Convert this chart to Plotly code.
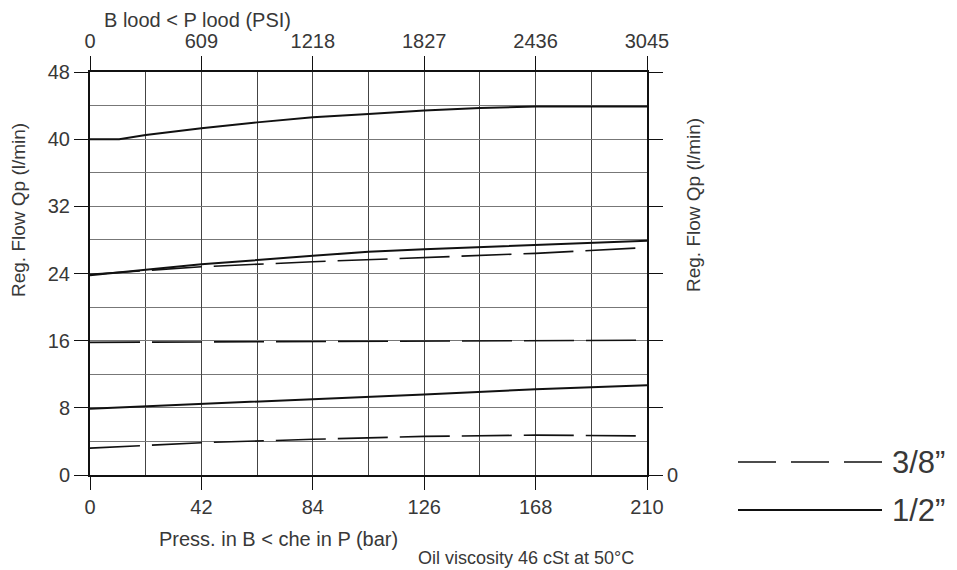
import plotly.graph_objects as go

# ---- data ----
bar_ticks = [0, 42, 84, 126, 168, 210]
psi_ticks = [0, 609, 1218, 1827, 2436, 3045]
flow_ticks = [0, 8, 16, 24, 32, 40, 48]

half_top_x = [0, 11, 21, 42, 63, 84, 105, 126, 147, 168, 210]
half_top_y = [40.0, 40.0, 40.5, 41.3, 42.0, 42.6, 43.0, 43.4, 43.7, 43.9, 43.9]

half_mid_x = [0, 42, 84, 105, 126, 168, 210]
half_mid_y = [23.8, 25.1, 26.1, 26.6, 26.9, 27.4, 27.9]

half_low_x = [0, 42, 84, 126, 168, 210]
half_low_y = [7.9, 8.45, 9.05, 9.6, 10.2, 10.7]

tq_up_x = [0, 42, 84, 126, 168, 210]
tq_up_y = [23.9, 24.8, 25.4, 25.9, 26.4, 27.1]

tq_mid_x = [0, 42, 84, 126, 168, 210]
tq_mid_y = [15.8, 15.85, 15.9, 15.95, 16.0, 16.05]

tq_low_x = [0, 42, 84, 126, 168, 210]
tq_low_y = [3.2, 3.85, 4.25, 4.6, 4.75, 4.65]

FONT = "Liberation Sans"
TXT = "#383838"

fig = go.Figure()

solid = dict(color="#111111", width=2)
dashed = dict(color="#111111", width=1.6, dash="50px,12px")

for xs, ys in [(half_top_x, half_top_y), (half_mid_x, half_mid_y), (half_low_x, half_low_y)]:
    fig.add_trace(go.Scatter(x=xs, y=ys, mode="lines", line=solid, showlegend=False, hoverinfo="skip"))
for xs, ys in [(tq_up_x, tq_up_y), (tq_mid_x, tq_mid_y), (tq_low_x, tq_low_y)]:
    fig.add_trace(go.Scatter(x=xs, y=ys, mode="lines", line=dashed, showlegend=False, hoverinfo="skip"))

# invisible trace to activate secondary axes
fig.add_trace(go.Scatter(x=[0], y=[0], xaxis="x2", yaxis="y2", mode="markers",
                         marker=dict(opacity=0), showlegend=False, hoverinfo="skip"))

tickfont = dict(family=FONT, size=20, color=TXT)

# the page body adds an 8px offset; figure is sized so it fits the 957x570 window
fig.update_layout(
    width=949, height=562,
    margin=dict(l=82, r=310, t=64, b=95, autoexpand=False),
    paper_bgcolor="white", plot_bgcolor="white",
    showlegend=False,
    xaxis=dict(range=[0, 210], tickvals=bar_ticks, ticks="outside", ticklen=13,
               tickcolor="#111", tickwidth=1, tickfont=tickfont,
               showgrid=True, gridcolor="#444", gridwidth=1,
               minor=dict(dtick=21, tick0=0, showgrid=True, gridcolor="#444", gridwidth=1, ticks=""),
               showline=True, linecolor="#111", linewidth=2, zeroline=False, fixedrange=True),
    xaxis2=dict(range=[0, 3045], tickvals=psi_ticks, overlaying="x", side="top",
                ticks="outside", ticklen=14, tickcolor="#111", tickwidth=1, tickfont=tickfont,
                showgrid=False, showline=True, linecolor="#111", linewidth=2, zeroline=False),
    yaxis=dict(range=[0, 48], tickvals=flow_ticks, ticks="outside", ticklen=14,
               tickcolor="#111", tickwidth=1, tickfont=tickfont,
               showgrid=True, gridcolor="#777", gridwidth=1.3,
               minor=dict(dtick=4, tick0=0, showgrid=True, gridcolor="#777", gridwidth=1.3, ticks=""),
               showline=True, linecolor="#111", linewidth=2, zeroline=False),
    yaxis2=dict(range=[0, 48], tickvals=flow_ticks, ticktext=["0", "", "", "", "", "", ""],
                overlaying="y", side="right", ticks="outside", ticklen=14,
                tickcolor="#111", tickwidth=1, tickfont=tickfont,
                showgrid=False, showline=True, linecolor="#111", linewidth=2, zeroline=False),
)

def ann(text, x, y, size, xanchor="center", yanchor="middle", angle=0):
    fig.add_annotation(text=text, x=x, y=y, xref="paper", yref="paper", showarrow=False,
                       xanchor=xanchor, yanchor=yanchor, textangle=angle,
                       font=dict(family=FONT, size=size, color=TXT))

# plot area in page px: x 90..647, y 72..475
def px(xp):
    return (xp - 90) / 557.0

def py(yp):
    return (475 - yp) / 403.0

ann("B lood &lt; P lood (PSI)", px(102), py(20), 20, xanchor="left")
ann("Press. in B &lt; che in P (bar)", px(157), py(539), 20, xanchor="left")
ann("Oil viscosity 46 cSt at 50°C", px(416), py(558), 18, xanchor="left")
ann("Reg. Flow Qp (l/min)", px(18), py(210), 19, angle=-90)
ann("Reg. Flow Qp (l/min)", px(693), py(205), 19, angle=-90)

# legend
fig.add_shape(type="line", xref="paper", yref="paper", x0=px(738), x1=px(882), y0=py(462), y1=py(462),
              line=dict(color="#111", width=1.5, dash="38px,15px"))
fig.add_shape(type="line", xref="paper", yref="paper", x0=px(738), x1=px(882), y0=py(510), y1=py(510),
              line=dict(color="#111", width=1.8))
ann("3/8”", px(890), py(462), 31, xanchor="left")
ann("1/2”", px(890), py(510), 31, xanchor="left")

fig.write_html("out.html")
